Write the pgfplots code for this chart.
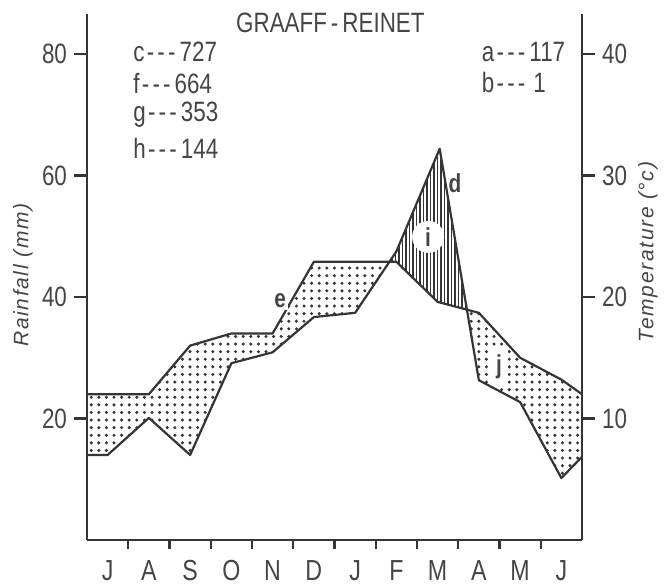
\documentclass[border=0pt]{standalone}
\usepackage{fontspec}
\setmainfont{Liberation Sans}[FakeStretch=0.8]
\newfontfamily\labelfont{Liberation Sans}[LetterSpace=8]
\usepackage{pgfplots}
\usepackage{pgfplotstable}
\pgfplotsset{compat=1.18}
\usepgfplotslibrary{fillbetween}
\usetikzlibrary{patterns,patterns.meta}
\definecolor{ink}{HTML}{353535}
\definecolor{txt}{HTML}{454545}
\newcommand\dsh{\kern1.2pt-\kern1.6pt-\kern1.6pt-\kern2pt}

% Rainfall (mm)
\pgfplotstableread{
x y
0 14.0
0.5 14.0
1.5 20.1
2.5 14.0
3.5 29.1
4.5 30.9
5.5 36.7
6.5 37.4
7.5 47.5
8.55 64.4
9.5 26.3
10.5 22.7
11.5 10.2
12 13.7
}\rain

% Temperature (deg C)
\pgfplotstableread{
x t
0 12.0
0.5 12.0
1.5 12.0
2.5 16.0
3.5 17.0
4.5 17.0
5.5 22.9
6.5 22.9
7.5 22.9
8.5 19.6
9.5 18.7
10.5 15.0
11.5 13.2
12 12.0
}\temp

\begin{document}
\begin{tikzpicture}
\pgfplotsset{
  base/.style={
    scale only axis, width=247.5pt, height=263pt,
    xmin=0, xmax=12,
    axis line style={ink, line width=1.1pt},
    tick style={ink, line width=1.1pt},
    tick align=outside, major tick length=6.5pt,
    yticklabel style={font=\fontsize{14}{15}\selectfont, text=txt},
    xticklabel style={font=\fontsize{14.5}{16}\selectfont, text=txt},
    /pgf/number format/assume math mode=true,
    clip=false,
  }
}
\begin{axis}[base, ymin=0, ymax=86.6,
  axis x line*=bottom, axis y line*=left,
  ytick={20,40,60,80},
  xtick={0.5,1.5,...,11.5},
  xticklabels={J,A,S,O,N,D,J,F,M,A,M,J},
  every major x tick/.append style={draw=none},
  minor xtick={1,2,...,11},
  minor tick length=4.5pt,
  every minor x tick/.append style={ink, line width=1.1pt},
]
\addplot[name path=rain, draw=none] table[x=x, y=y] {\rain};
\addplot[name path=temp, draw=none] table[x=x, y expr=2*\thisrow{t}] {\temp};
\addplot[draw=none] fill between[of=temp and rain, split,
  every segment no 0/.style={pattern={Dots[radius=0.85pt, distance=3.8pt]}, pattern color=ink},
  every segment no 1/.style={pattern={Lines[angle=90, distance=1.75pt, line width=0.6pt]}, pattern color=ink},
  every segment no 2/.style={pattern={Dots[radius=0.85pt, distance=3.8pt]}, pattern color=ink},
];
\addplot[ink, line width=1.1pt, line join=round] table[x=x, y=y] {\rain};
\addplot[ink, line width=1.1pt, line join=round] table[x=x, y expr=2*\thisrow{t}] {\temp};

% in-plot labels
\node[font=\bfseries\fontsize{13}{14}\selectfont, text=txt] at (axis cs:8.92,58.8) {d};
\node[circle, fill=white, minimum size=16pt, inner sep=0pt, font=\bfseries\fontsize{13}{14}\selectfont, text=txt] at (axis cs:8.27,49.9) {i};
\node[fill=white, inner sep=1.2pt, font=\bfseries\fontsize{13}{14}\selectfont, text=txt] at (axis cs:4.68,39.4) {e};
\node[fill=white, inner sep=3pt, font=\bfseries\fontsize{13}{14}\selectfont, text=txt] at (axis cs:9.99,28.5) {j};

% title and statistics
\node[font=\fontsize{14}{15}\selectfont, text=txt] at (axis cs:5.9,85.1) {GRAAFF\kern2pt-\kern2pt REINET};
\node[anchor=west, font=\fontsize{14}{15}\selectfont, text=txt] at (axis cs:0.95,80.3) {c\dsh 727};
\node[anchor=west, font=\fontsize{14}{15}\selectfont, text=txt] at (axis cs:0.95,75.1) {f\dsh 664};
\node[anchor=west, font=\fontsize{14}{15}\selectfont, text=txt] at (axis cs:0.95,70.0) {g\dsh 353};
\node[anchor=west, font=\fontsize{14}{15}\selectfont, text=txt] at (axis cs:0.95,64.5) {h\dsh 144};
\node[anchor=west, font=\fontsize{14}{15}\selectfont, text=txt] at (axis cs:9.4,80.3) {a\dsh 117};
\node[anchor=west, font=\fontsize{14}{15}\selectfont, text=txt] at (axis cs:9.4,75.3) {b\dsh\kern2pt 1};

% axis titles
\node[rotate=90, font=\labelfont\itshape\fontsize{10.5}{12}\selectfont, text=txt] at (axis cs:-1.55,43.6) {Rainfall (mm)};
\node[rotate=90, font=\labelfont\itshape\fontsize{10.5}{12}\selectfont, text=txt] at (axis cs:13.6,47.4) {Temperature (°c)};
\end{axis}

\begin{axis}[base, ymin=0, ymax=43.3,
  axis x line=none, axis y line*=right,
  ytick={10,20,30,40},
]
\end{axis}
\useasboundingbox (-43.5pt,-22pt) rectangle (291.5pt,270pt);
\end{tikzpicture}
\end{document}
